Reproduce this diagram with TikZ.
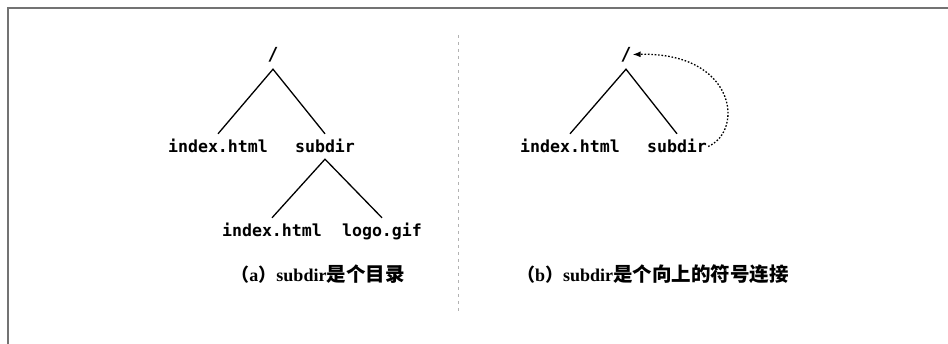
\documentclass[tikz,border=0pt]{standalone}
\usepackage{fontspec}
\setmainfont{Liberation Serif}
\setmonofont{DejaVu Sans Mono}
\newfontfamily\cjk{Noto Sans CJK SC}
\usetikzlibrary{arrows.meta}
\newcommand{\cjkbig}{\cjk\fontsize{19.5}{20}\selectfont}
\begin{document}
\begin{tikzpicture}[x=1pt,y=-1pt,
  fname/.style={font=\fontsize{16.6}{18}\selectfont\ttfamily\bfseries, anchor=base,
     inner xsep=1pt, inner ysep=6pt, text height=13pt, text depth=0pt},
  rootname/.style={fname, inner ysep=8pt, font=\fontsize{18}{20}\selectfont\ttfamily\bfseries},
  branch/.style={line width=1.3pt, black},
  capt/.style={font=\fontsize{18}{20}\selectfont\bfseries, anchor=base, inner sep=0pt},
  frame/.style={line width=1.2pt, black!55},
  sep/.style={line width=0.8pt, black!30, dash pattern=on 3pt off 4pt},
  link/.style={line width=1.3pt, dash pattern=on 1.6pt off 1.8pt, -{Latex[length=8pt,width=6pt]}}
]
\useasboundingbox (0,0) rectangle (948,344);
% frame
\draw[frame] (948,8) -- (8,8) -- (8,344);
% separator
\draw[sep] (458,35) -- (458,312);

% left tree
\node[rootname] (rootL) at (273,61) {/};
\node[fname] (idxL) at (218,153) {index.html};
\node[fname] (subL) at (325,153) {subdir};
\node[fname] (idxL2) at (272,237) {index.html};
\node[fname] (logoL) at (382,237) {logo.gif};
\draw[branch] (idxL.north) -- (rootL.south) -- (subL.north);
\draw[branch] (idxL2.north) -- (subL.south) -- (logoL.north);
\node[capt] (capA) at (318,282) {{\cjk （}a{\cjk ）}subdir{\cjkbig 是个目录}};

% right tree
\node[rootname] (rootR) at (626,61) {/};
\node[fname] (idxR) at (570,153) {index.html};
\node[fname] (subR) at (677,153) {subdir};
\draw[branch] (idxR.north) -- (rootR.south) -- (subR.north);
\draw[link] (subR.east) .. controls (745,130) and (735,52) .. (rootR.east);
\node[capt, anchor=base west] (capB) at (517,282) {{\cjk （}b{\cjk ）}subdir{\cjkbig 是个向上的符号连接}};
\end{tikzpicture}
\end{document}
